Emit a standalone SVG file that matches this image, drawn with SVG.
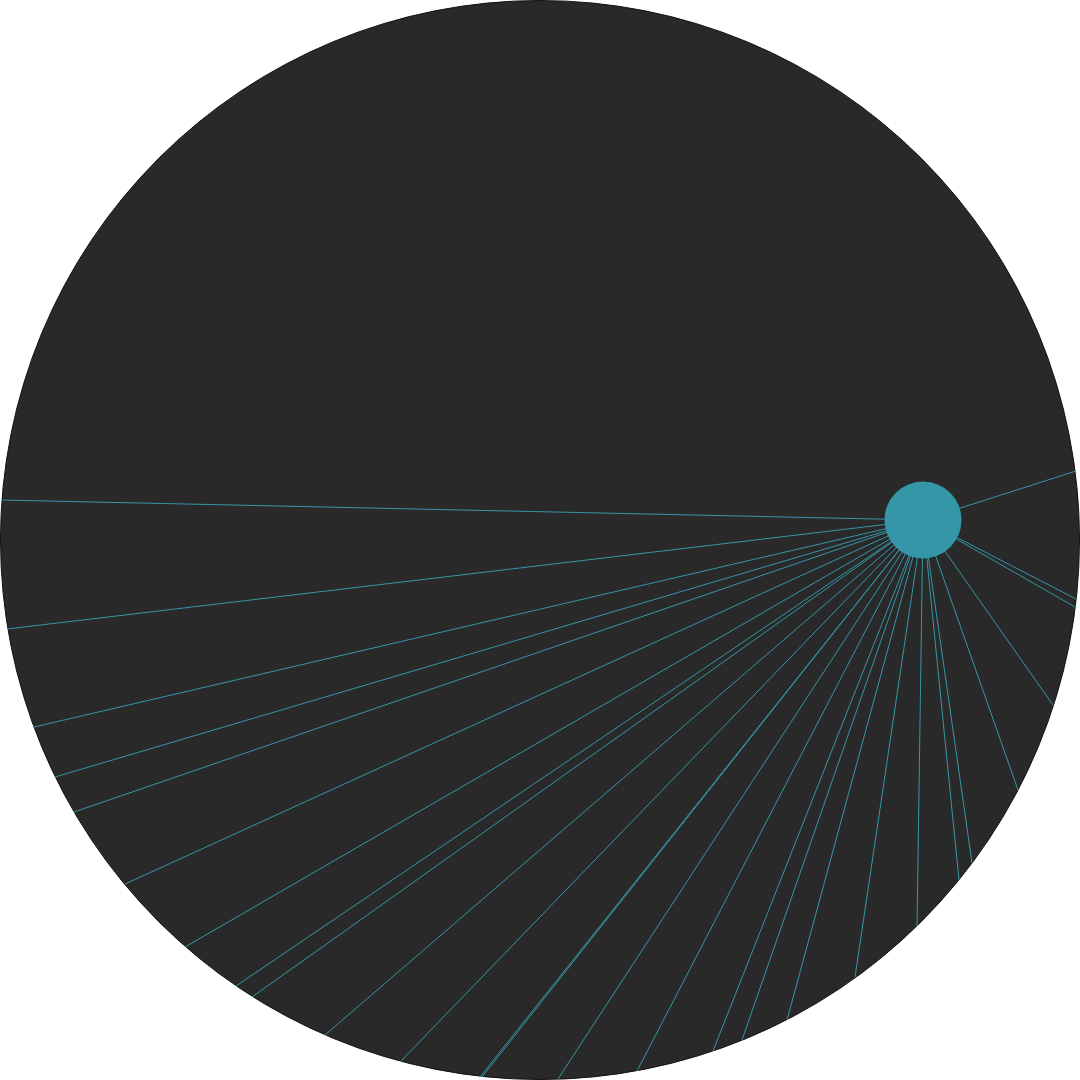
<svg xmlns="http://www.w3.org/2000/svg" width="1080" height="1080" viewBox="0 0 1080 1080">
<style>
.bg{fill:#292929;stroke:#111111;stroke-width:1}
.link{stroke:#3596a8;stroke-width:1;fill:none}
.hub{fill:#3596a8}
</style>
<rect width="1080" height="1080" fill="#ffffff"/>
<g id="outer"><circle class="bg" cx="540" cy="540" r="539.5"/></g>
<g id="connectors">
<line class="link" x1="923" y1="520" x2="1076" y2="471"/>
<line class="link" x1="923" y1="520" x2="1076" y2="599"/>
<line class="link" x1="923" y1="520" x2="1075" y2="607"/>
<line class="link" x1="923" y1="520" x2="1053" y2="705"/>
<line class="link" x1="923" y1="520" x2="1018" y2="790"/>
<line class="link" x1="923" y1="520" x2="972" y2="863"/>
<line class="link" x1="923" y1="520" x2="959" y2="880"/>
<line class="link" x1="923" y1="520" x2="917" y2="926"/>
<line class="link" x1="923" y1="520" x2="855" y2="977"/>
<line class="link" x1="923" y1="520" x2="787" y2="1020"/>
<line class="link" x1="923" y1="520" x2="742" y2="1040"/>
<line class="link" x1="923" y1="520" x2="713" y2="1051"/>
<line class="link" x1="923" y1="520" x2="637" y2="1071"/>
<line class="link" x1="923" y1="520" x2="558" y2="1079"/>
<line class="link" x1="923" y1="520" x2="482" y2="1077"/>
<line class="link" x1="923" y1="520" x2="480" y2="1077"/>
<line class="link" x1="923" y1="520" x2="401" y2="1061"/>
<line class="link" x1="923" y1="520" x2="325" y2="1035"/>
<line class="link" x1="923" y1="520" x2="252" y2="997"/>
<line class="link" x1="923" y1="520" x2="236" y2="986"/>
<line class="link" x1="923" y1="520" x2="185" y2="947"/>
<line class="link" x1="923" y1="520" x2="125" y2="884"/>
<line class="link" x1="923" y1="520" x2="74" y2="812"/>
<line class="link" x1="923" y1="520" x2="55" y2="777"/>
<line class="link" x1="923" y1="520" x2="34" y2="727"/>
<line class="link" x1="923" y1="520" x2="7" y2="629"/>
<line class="link" x1="923" y1="520" x2="1" y2="500"/>
</g>
<g id="hub"><circle class="hub" cx="923" cy="520" r="38.5"/></g>
</svg>
